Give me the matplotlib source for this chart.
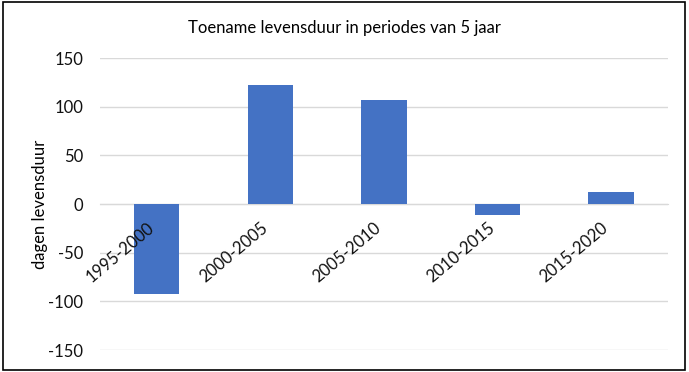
import matplotlib
matplotlib.use("Agg")
import matplotlib.pyplot as plt
from matplotlib.patches import Rectangle

periods = ["1995-2000", "2000-2005", "2005-2010", "2010-2015", "2015-2020"]
days_gained = [-92, 122, 107, -11, 12]
y_ticks = [-150, -100, -50, 0, 50, 100, 150]

plt.rcParams["font.family"] = ["Lato", "DejaVu Sans"]

fig = plt.figure(figsize=(6.89, 3.72), dpi=100)
ax = fig.add_axes([0.145, 0.059, 0.8245, 0.785])

x = range(len(periods))
ax.bar(x, days_gained, width=0.4, color="#4472C4", zorder=2)

ax.set_xlim(-0.5, len(periods) - 0.5)
ax.set_ylim(-150, 150)
ax.set_yticks(y_ticks)
ax.set_yticklabels([str(v) for v in y_ticks], fontsize=12, color="#111111")
# gridlines drawn by hand so the bars (and labels on top) stack like Excel
for v in y_ticks:
    ax.axhline(v, color="#D9D9D9", linewidth=1, zorder=0)

# category axis sits on the zero line, labels drawn over the bars
ax.spines["bottom"].set_position(("data", 0))
ax.spines["bottom"].set_color("#D9D9D9")
ax.spines["bottom"].set_zorder(1)
for side in ["top", "right", "left"]:
    ax.spines[side].set_visible(False)
ax.xaxis.set_zorder(3)
ax.set_xticks(list(x))
ax.set_xticklabels(periods, rotation=40, ha="right", va="top", fontsize=12, color="#111111")
ax.tick_params(axis="both", length=0)
ax.tick_params(axis="x", pad=11)
ax.tick_params(axis="y", pad=12)

ax.set_ylabel("dagen levensduur", fontsize=12, labelpad=0)
fig.text(0.5, 0.925, "Toename levensduur in periodes van 5 jaar", ha="center", va="center", fontsize=12)

# frame around the whole chart
fig.patches.append(Rectangle((0.004, 0.006), 0.99, 0.988, transform=fig.transFigure,
                             fill=False, edgecolor="black", linewidth=1.2))

fig.savefig("out.png", dpi=100)
